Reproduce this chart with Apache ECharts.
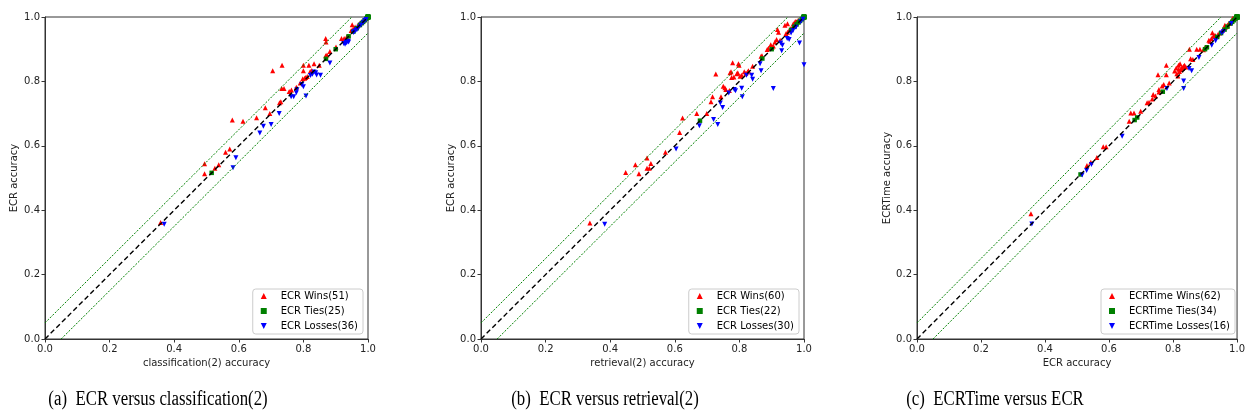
<!DOCTYPE html>
<html><head><meta charset="utf-8">
<script src="https://cdn.jsdelivr.net/npm/echarts@6/dist/echarts.min.js"></script>
<style>html,body{margin:0;padding:0;background:#fff}#c{width:1248px;height:418px}</style>
</head><body><div id="c"></div>
<script>
// ---------- data ----------
const tickLabels = ['0.0','0.2','0.4','0.6','0.8','1.0'];
const xNames = ['classification(2) accuracy','retrieval(2) accuracy','ECR accuracy'];
const yNames = ['ECR accuracy','ECR accuracy','ECRTime accuracy'];
const captions = ['(a)  ECR versus classification(2)','(b)  ECR versus retrieval(2)','(c)  ECRTime versus ECR'];
const winNames = ['ECR Wins(51)','ECR Wins(60)','ECRTime Wins(62)'];
const tieNames = ['ECR Ties(25)','ECR Ties(22)','ECRTime Ties(34)'];
const lossNames = ['ECR Losses(36)','ECR Losses(30)','ECRTime Losses(16)'];

const diagLine = [[0,0],[1,1]];
const upperBand = [[0,0.05],[0.95,1]];
const lowerBand = [[0.05,0],[1,0.95]];

const winsA = [[0.358,0.362],[0.494,0.544],[0.494,0.513],[0.526,0.530],[0.538,0.541],[0.559,0.580],[0.572,0.590],[0.580,0.680],[0.613,0.676],[0.655,0.687],[0.682,0.718],[0.696,0.700],[0.705,0.833],[0.734,0.850],[0.726,0.734],[0.730,0.737],[0.733,0.778],[0.740,0.778],[0.756,0.769],[0.763,0.773],[0.778,0.782],[0.800,0.850],[0.800,0.833],[0.798,0.808],[0.807,0.812],[0.812,0.815],[0.817,0.850],[0.833,0.855],[0.821,0.831],[0.826,0.834],[0.849,0.850],[0.869,0.933],[0.870,0.922],[0.869,0.880],[0.873,0.882],[0.882,0.893],[0.901,0.907],[0.918,0.933],[0.926,0.933],[0.934,0.938],[0.951,0.976],[0.954,0.963],[0.948,0.958],[0.960,0.969],[0.970,0.976],[0.976,0.981],[0.980,0.984],[0.986,0.990],[0.992,0.995],[0.790,0.795],[0.804,0.810]];
const tiesA = [[0.516,0.516],[0.870,0.870],[0.900,0.900],[0.940,0.940],[0.955,0.955],[0.965,0.965],[0.975,0.975],[0.981,0.981],[0.985,0.985],[0.990,0.990],[0.995,0.995],[1,1],[1,1],[1,1],[1,1],[1,1],[1,1],[1,1],[1,1],[1,1],[1,1],[1,1],[1,1],[1,1],[1,1]];
const lossesA = [[0.369,0.356],[0.582,0.532],[0.591,0.563],[0.665,0.640],[0.676,0.661],[0.700,0.666],[0.725,0.700],[0.762,0.752],[0.770,0.752],[0.778,0.765],[0.780,0.774],[0.795,0.790],[0.800,0.783],[0.808,0.755],[0.822,0.818],[0.828,0.822],[0.833,0.829],[0.838,0.827],[0.841,0.820],[0.853,0.819],[0.882,0.857],[0.925,0.918],[0.929,0.915],[0.932,0.922],[0.934,0.920],[0.938,0.925],[0.940,0.922],[0.955,0.952],[0.958,0.955],[0.962,0.958],[0.966,0.961],[0.972,0.968],[0.978,0.975],[0.985,0.982],[0.990,0.988],[0.994,0.992]];

const winsB = [[0.337,0.360],[0.448,0.517],[0.478,0.541],[0.489,0.513],[0.514,0.562],[0.514,0.530],[0.521,0.530],[0.526,0.545],[0.571,0.580],[0.615,0.641],[0.624,0.686],[0.668,0.700],[0.699,0.700],[0.712,0.737],[0.717,0.752],[0.727,0.823],[0.743,0.752],[0.750,0.785],[0.755,0.780],[0.758,0.775],[0.769,0.772],[0.774,0.830],[0.779,0.858],[0.776,0.812],[0.783,0.814],[0.795,0.827],[0.799,0.850],[0.797,0.855],[0.802,0.816],[0.815,0.830],[0.820,0.825],[0.828,0.833],[0.841,0.847],[0.867,0.878],[0.870,0.880],[0.886,0.899],[0.897,0.914],[0.902,0.907],[0.910,0.922],[0.915,0.930],[0.921,0.953],[0.918,0.961],[0.941,0.974],[0.949,0.979],[0.944,0.948],[0.949,0.953],[0.955,0.960],[0.960,0.965],[0.967,0.979],[0.973,0.986],[0.977,0.985],[0.982,0.990],[0.993,0.995],[0.926,0.928],[0.905,0.910],[0.890,0.903],[0.825,0.829],[0.792,0.824],[0.771,0.827],[0.807,0.819]];
const tiesB = [[0.678,0.678],[0.871,0.871],[0.900,0.900],[0.960,0.960],[0.970,0.970],[0.977,0.977],[0.983,0.983],[0.988,0.988],[0.993,0.993],[0.997,0.997],[1,1],[1,1],[1,1],[1,1],[1,1],[1,1],[1,1],[1,1],[1,1],[1,1],[1,1],[1,1]];
const lossesB = [[0.383,0.356],[0.604,0.590],[0.676,0.662],[0.720,0.682],[0.733,0.666],[0.741,0.733],[0.748,0.719],[0.767,0.764],[0.784,0.775],[0.788,0.771],[0.807,0.779],[0.809,0.752],[0.822,0.819],[0.838,0.819],[0.841,0.807],[0.864,0.855],[0.867,0.833],[0.905,0.778],[0.928,0.919],[0.931,0.895],[0.933,0.912],[0.948,0.933],[0.954,0.930],[0.960,0.950],[0.966,0.958],[0.986,0.919],[1.000,0.852],[0.975,0.968],[0.990,0.985],[0.997,0.993]];

const winsC = [[0.356,0.389],[0.531,0.539],[0.543,0.549],[0.562,0.564],[0.582,0.597],[0.591,0.597],[0.663,0.676],[0.668,0.702],[0.678,0.702],[0.699,0.707],[0.719,0.734],[0.735,0.745],[0.738,0.759],[0.756,0.775],[0.756,0.767],[0.753,0.821],[0.766,0.786],[0.771,0.790],[0.779,0.850],[0.779,0.821],[0.788,0.795],[0.810,0.842],[0.812,0.824],[0.817,0.850],[0.820,0.831],[0.822,0.855],[0.828,0.844],[0.833,0.847],[0.815,0.817],[0.825,0.836],[0.830,0.840],[0.836,0.850],[0.851,0.900],[0.855,0.870],[0.862,0.868],[0.874,0.900],[0.884,0.900],[0.895,0.898],[0.912,0.928],[0.915,0.925],[0.920,0.933],[0.923,0.951],[0.926,0.940],[0.931,0.943],[0.933,0.940],[0.945,0.950],[0.962,0.974],[0.964,0.969],[0.970,0.975],[0.978,0.982],[0.986,0.995],[0.990,0.995],[0.995,0.998],[0.745,0.755],[0.725,0.735],[0.805,0.832],[0.818,0.838],[0.840,0.845],[0.900,0.905],[0.940,0.945],[0.955,0.960],[0.975,0.980]];
const tiesC = [[0.511,0.511],[0.680,0.680],[0.688,0.688],[0.768,0.768],[0.900,0.900],[0.906,0.906],[0.938,0.938],[0.950,0.950],[0.961,0.961],[0.970,0.970],[0.980,0.980],[0.985,0.985],[0.990,0.990],[0.995,0.995],[1,1],[1,1],[1,1],[1,1],[1,1],[1,1],[1,1],[1,1],[1,1],[1,1],[1,1],[1,1],[1,1],[1,1],[1,1],[1,1],[1,1],[1,1],[1,1],[1,1]];
const lossesC = [[0.359,0.357],[0.516,0.509],[0.530,0.523],[0.545,0.542],[0.641,0.630],[0.781,0.778],[0.833,0.801],[0.833,0.778],[0.850,0.840],[0.858,0.833],[0.881,0.874],[0.921,0.912],[0.933,0.926],[0.952,0.950],[0.958,0.955],[0.982,0.980]];

const winsAll = [winsA, winsB, winsC];
const tiesAll = [tiesA, tiesB, tiesC];
const lossesAll = [lossesA, lossesB, lossesC];

// ---------- layout ----------
const W = 1248;
const gridLefts = [45, 481, 917];
const gridTop = 17, gridW = 323, gridH = 322;
const captionX = [158, 605, 995];
const yNameGap = [26, 25, 24];
const downTri = 'path://M0,0L10,0L5,10Z';

const chart = echarts.init(document.getElementById('c'), null, {renderer: 'canvas'});
const font = 'DejaVu Sans';
const grids = [], xAxes = [], yAxes = [], series = [], legends = [], graphics = [];

for (let i = 0; i < 3; i++) {
  grids.push({left: gridLefts[i], top: gridTop, width: gridW, height: gridH,
    show: true, borderColor: '#333', borderWidth: 1, backgroundColor: '#fff'});
  const axisCommon = {
    gridIndex: i, type: 'value', min: 0, max: 1, interval: 0.2,
    axisLine: {show: true, onZero: false, lineStyle: {color: '#333', width: 1}},
    axisTick: {show: true, inside: false, length: 3.5, lineStyle: {color: '#333'}},
    splitLine: {show: false},
    axisLabel: {fontFamily: font, fontSize: 10, color: '#222', margin: 5,
      formatter: v => tickLabels[Math.round(v / 0.2)]},
    nameLocation: 'middle',
    nameTextStyle: {fontFamily: font, fontSize: 10, color: '#222'}
  };
  xAxes.push(Object.assign({}, axisCommon, {name: xNames[i], nameGap: 18}));
  yAxes.push(Object.assign({}, axisCommon, {name: yNames[i], nameGap: yNameGap[i]}));

  series.push({type: 'scatter', name: winNames[i], xAxisIndex: i, yAxisIndex: i,
    data: winsAll[i], symbol: 'triangle', symbolSize: 5, itemStyle: {color: '#ff0000', opacity: 1}, z: 2});
  series.push({type: 'scatter', name: tieNames[i], xAxisIndex: i, yAxisIndex: i,
    data: tiesAll[i], symbol: 'rect', symbolSize: 4.5, itemStyle: {color: '#008000', opacity: 1}, z: 2});
  series.push({type: 'scatter', name: lossNames[i], xAxisIndex: i, yAxisIndex: i,
    data: lossesAll[i], symbol: 'triangle', symbolRotate: 180, symbolSize: 5, itemStyle: {color: '#0000ff', opacity: 1}, z: 2});

  series.push({type: 'line', xAxisIndex: i, yAxisIndex: i, data: diagLine, symbol: 'none',
    lineStyle: {color: '#000', width: 1.4, type: [5, 3]}, silent: true, z: 3});
  series.push({type: 'line', xAxisIndex: i, yAxisIndex: i, data: upperBand, symbol: 'none',
    lineStyle: {color: '#008000', width: 1, type: [2, 1.5]}, silent: true, z: 3});
  series.push({type: 'line', xAxisIndex: i, yAxisIndex: i, data: lowerBand, symbol: 'none',
    lineStyle: {color: '#008000', width: 1, type: [2, 1.5]}, silent: true, z: 3});

  legends.push({
    orient: 'vertical', right: W - (gridLefts[i] + gridW - 5), top: 289,
    data: [{name: winNames[i]}, {name: tieNames[i]}, {name: lossNames[i], icon: downTri}],
    padding: [2, 5, 3, 8], itemGap: 5, itemWidth: 6, itemHeight: 6,
    borderColor: '#ccc', borderWidth: 1, borderRadius: 3, backgroundColor: '#fff',
    textStyle: {fontFamily: font, fontSize: 10, color: '#000', padding: [0, 0, 0, 9]},
    selectedMode: false
  });

  graphics.push({type: 'text', x: captionX[i], y: 400, scaleX: 0.84,
    style: {text: captions[i], fill: '#000', font: '20px "Liberation Serif"',
      textAlign: 'center', textVerticalAlign: 'middle'}});
}

chart.setOption({
  animation: false,
  backgroundColor: '#fff',
  grid: grids, xAxis: xAxes, yAxis: yAxes, series: series, legend: legends,
  graphic: graphics
});
</script></body></html>
